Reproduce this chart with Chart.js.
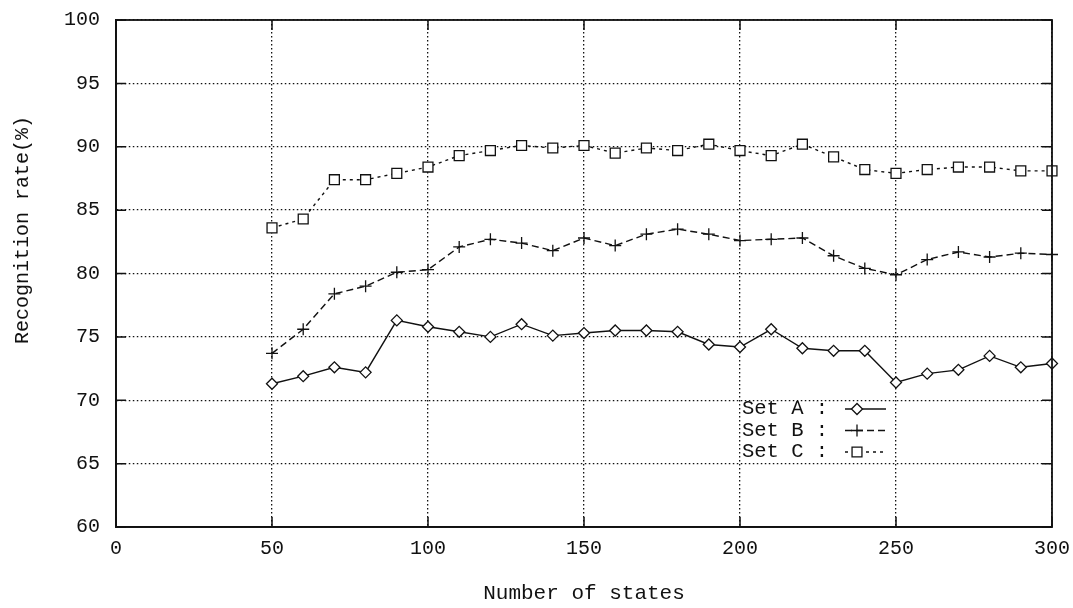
<!DOCTYPE html>
<html>
<head>
<meta charset="utf-8">
<script src="https://cdn.jsdelivr.net/npm/chart.js@4/dist/chart.umd.min.js"></script>
<style>
  html, body { margin: 0; padding: 0; background: #fff; }
  #wrap { width: 1073px; height: 608px; position: relative; }
</style>
</head>
<body>
<div id="wrap"><canvas id="c" width="1073" height="608"></canvas></div>
<script>
// ---- data ----
const states = [50, 60, 70, 80, 90, 100, 110, 120, 130, 140, 150, 160, 170, 180, 190, 200, 210, 220, 230, 240, 250, 260, 270, 280, 290, 300];
const setA = [71.3, 71.9, 72.6, 72.2, 76.3, 75.8, 75.4, 75.0, 76.0, 75.1, 75.3, 75.5, 75.5, 75.4, 74.4, 74.2, 75.6, 74.1, 73.9, 73.9, 71.4, 72.1, 72.4, 73.5, 72.6, 72.9];
const setB = [73.7, 75.6, 78.4, 79.0, 80.1, 80.3, 82.1, 82.7, 82.4, 81.8, 82.8, 82.2, 83.1, 83.5, 83.1, 82.6, 82.7, 82.8, 81.4, 80.4, 79.9, 81.1, 81.7, 81.3, 81.6, 81.5];
const setC = [83.6, 84.3, 87.4, 87.4, 87.9, 88.4, 89.3, 89.7, 90.1, 89.9, 90.1, 89.5, 89.9, 89.7, 90.2, 89.7, 89.3, 90.2, 89.2, 88.2, 87.9, 88.2, 88.4, 88.4, 88.1, 88.1];
const seriesNames = ['Set A', 'Set B', 'Set C'];
const xTitle = 'Number of states';
const yTitle = 'Recognition rate(%)';
const xMin = 0, xMax = 300, xStep = 50;
const yMin = 60, yMax = 100, yStep = 5;

const FONT = '"Liberation Mono", "DejaVu Sans Mono", monospace';
const INK = '#111';

function toPts(vals) { return states.map((s, i) => ({ x: s, y: vals[i] })); }

const styles = [
  { dash: [], point: 'rectRot', radius: 5.5 },
  { dash: [7, 4], point: 'cross', radius: 6 },
  { dash: [3, 4], point: 'rect', radius: 7 }
];

const datasets = [setA, setB, setC].map((vals, i) => ({
  label: seriesNames[i],
  data: toPts(vals),
  borderColor: INK,
  backgroundColor: '#fff',
  borderWidth: 1.4,
  borderDash: styles[i].dash,
  pointStyle: styles[i].point,
  pointRadius: styles[i].radius,
  pointHoverRadius: styles[i].radius,
  pointBorderWidth: 1.3,
  pointBorderColor: INK,
  pointBackgroundColor: '#fff',
  tension: 0,
  clip: false
}));

function zeroPad(scale) {
  scale.paddingTop = 0; scale.paddingBottom = 0;
  scale.paddingLeft = 0; scale.paddingRight = 0;
}

const framePlugin = {
  id: 'frame',
  beforeDraw(chart) {
    const ctx = chart.ctx;
    ctx.save();
    ctx.fillStyle = '#fff';
    ctx.fillRect(0, 0, chart.width, chart.height);
    ctx.restore();
  },
  afterDatasetsDraw(chart) {
    const { ctx, chartArea: a, scales } = chart;
    ctx.save();
    ctx.strokeStyle = INK;
    ctx.lineWidth = 1.8;
    ctx.setLineDash([]);
    ctx.strokeRect(a.left, a.top, a.right - a.left, a.bottom - a.top);
    // inward tick marks on all four sides
    const tl = 10;
    ctx.lineWidth = 1.5;
    ctx.beginPath();
    scales.x.ticks.forEach(t => {
      const px = scales.x.getPixelForValue(t.value);
      ctx.moveTo(px, a.bottom); ctx.lineTo(px, a.bottom - tl);
      ctx.moveTo(px, a.top); ctx.lineTo(px, a.top + tl);
    });
    scales.y.ticks.forEach(t => {
      const py = scales.y.getPixelForValue(t.value);
      ctx.moveTo(a.left, py); ctx.lineTo(a.left + tl, py);
      ctx.moveTo(a.right, py); ctx.lineTo(a.right - tl, py);
    });
    ctx.stroke();

    // y-axis title
    ctx.fillStyle = INK;
    ctx.font = '20px ' + FONT;
    ctx.textAlign = 'center';
    ctx.textBaseline = 'middle';
    ctx.save();
    ctx.translate(23, 230);
    ctx.rotate(-Math.PI / 2);
    ctx.fillText(yTitle, 0, 0);
    ctx.restore();

    // legend (inside plot)
    const lx = 742, ly0 = 409, dy = 21.5;
    ctx.textAlign = 'left';
    ctx.font = '20.5px ' + FONT;
    chart.data.datasets.forEach((ds, i) => {
      const y = ly0 + i * dy;
      ctx.fillStyle = INK;
      ctx.fillText(ds.label + ' :', lx, y);
      ctx.strokeStyle = INK;
      ctx.lineWidth = 1.4;
      ctx.setLineDash(styles[i].dash);
      ctx.beginPath();
      ctx.moveTo(845, y); ctx.lineTo(886, y);
      ctx.stroke();
      ctx.setLineDash([]);
      const mx = 857, r = styles[i].radius;
      ctx.lineWidth = 1.3;
      ctx.beginPath();
      if (styles[i].point === 'rectRot') {
        ctx.moveTo(mx - r, y); ctx.lineTo(mx, y - r); ctx.lineTo(mx + r, y); ctx.lineTo(mx, y + r); ctx.closePath();
        ctx.fillStyle = '#fff'; ctx.fill(); ctx.stroke();
      } else if (styles[i].point === 'cross') {
        ctx.moveTo(mx - r, y); ctx.lineTo(mx + r, y); ctx.moveTo(mx, y - r); ctx.lineTo(mx, y + r);
        ctx.stroke();
      } else {
        const h = r * Math.SQRT1_2;
        ctx.rect(mx - h, y - h, 2 * h, 2 * h);
        ctx.fillStyle = '#fff'; ctx.fill(); ctx.stroke();
      }
    });
    ctx.restore();
  }
};

new Chart(document.getElementById('c'), {
  type: 'line',
  data: { datasets },
  options: {
    responsive: false,
    animation: false,
    events: [],
    layout: { padding: { left: 0, right: 21, top: 20, bottom: 0 } },
    plugins: { legend: { display: false }, tooltip: { enabled: false }, title: { display: false } },
    scales: {
      x: {
        type: 'linear',
        min: xMin, max: xMax,
        ticks: { stepSize: xStep, color: INK, font: { family: FONT, size: 20 }, padding: 10, maxRotation: 0 },
        grid: { color: INK, lineWidth: 1.3, drawTicks: false },
        border: { display: true, color: INK, width: 1.8, dash: [1.5, 2.5] },
        title: { display: true, text: xTitle, color: INK, font: { family: FONT, size: 21 }, padding: { top: 0, bottom: 2 } },
        afterFit(scale) { scale.height = 81; zeroPad(scale); }
      },
      y: {
        type: 'linear',
        min: yMin, max: yMax,
        ticks: { stepSize: yStep, color: INK, font: { family: FONT, size: 20 }, padding: 16 },
        grid: { color: INK, lineWidth: 1.3, drawTicks: false },
        border: { display: true, color: INK, width: 1.8, dash: [1.5, 2.5] },
        afterFit(scale) { scale.width = 116; zeroPad(scale); }
      }
    }
  },
  plugins: [framePlugin]
});
</script>
</body>
</html>
